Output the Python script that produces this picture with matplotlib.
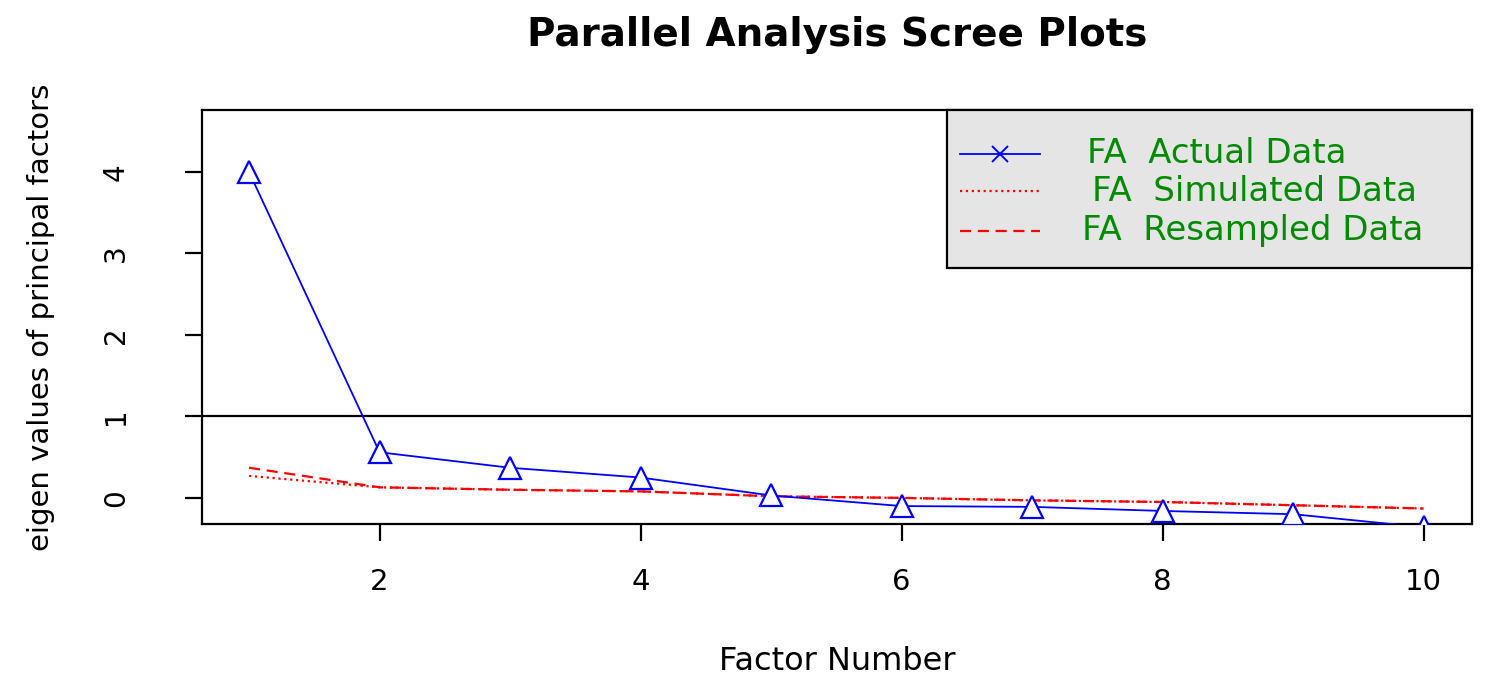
import matplotlib
matplotlib.use("Agg")
from matplotlib import pyplot as plt
from matplotlib.patches import Rectangle

plt.rcParams['font.family'] = ['DejaVu Sans']

# Данные
factors = [1, 2, 3, 4, 5, 6, 7, 8, 9, 10]
actual = [4.00, 0.56, 0.37, 0.25, 0.03, -0.10, -0.11, -0.16, -0.20, -0.36]
simulated = [0.27, 0.13, 0.10, 0.08, 0.02, 0.00, -0.03, -0.05, -0.09, -0.13]
resampled = [0.37, 0.13, 0.10, 0.08, 0.02, 0.00, -0.03, -0.05, -0.09, -0.13]
legend_labels = ["FA  Actual Data", "FA  Simulated Data", "FA  Resampled Data"]
x_ticks = [2, 4, 6, 8, 10]
y_ticks = [0, 1, 2, 3, 4]

fig = plt.figure(figsize=(14.88, 6.89), dpi=100)
ax = fig.add_axes([0.1358, 0.2395, 0.8534, 0.6008])

ax.plot(factors, actual, '-', color='blue', lw=1.3, marker='^', markersize=16,
        markerfacecolor='white', markeredgecolor='blue', markeredgewidth=1.6,
        clip_on=True, zorder=3)
ax.plot(factors, simulated, ':', color='red', lw=1.6)
ax.plot(factors, resampled, '--', color='red', lw=1.6, dashes=(5, 3))
ax.axhline(1, color='black', lw=1.6)

ax.set_xlim(0.64, 10.37)
ax.set_ylim(-0.32, 4.76)
ax.set_xticks(x_ticks)
ax.set_yticks(y_ticks)
ax.set_xticklabels([str(t) for t in x_ticks], fontsize=21)
ax.set_yticklabels([str(t) for t in y_ticks], fontsize=20, rotation=90, va='center')
ax.tick_params(axis='x', length=12, width=1.6, pad=20)
ax.tick_params(axis='y', length=12, width=1.6, pad=40)
for s in ax.spines.values():
    s.set_linewidth(1.6)

ax.set_xlabel("Factor Number", fontsize=23, labelpad=36)
ax.set_ylabel("eigen values of principal factors", fontsize=21, labelpad=34)
# заголовок по центру области графика, как в R
fig.text(0.5625, 0.949, "Parallel Analysis Scree Plots", fontsize=28, fontweight='bold',
         ha='center', va='center')

# Легенда, нарисованная вручную (как в R)
ax.add_patch(Rectangle((0.587, 0.618), 0.413, 0.382, transform=ax.transAxes,
                       facecolor='#e5e5e5', edgecolor='black', lw=1.6, zorder=5, clip_on=False))
rows = [0.894, 0.804, 0.708]
text_x = [0.697, 0.701, 0.693]
ax.plot([0.597, 0.660], [rows[0], rows[0]], '-', color='blue', lw=1.3, transform=ax.transAxes, zorder=6)
ax.plot([0.6285], [rows[0]], 'x', color='blue', markersize=12, mew=1.4, transform=ax.transAxes, zorder=6)
ax.plot([0.597, 0.660], [rows[1], rows[1]], ':', color='red', lw=1.6, transform=ax.transAxes, zorder=6)
ax.plot([0.597, 0.660], [rows[2], rows[2]], '--', color='red', lw=1.6, dashes=(5, 3),
        transform=ax.transAxes, zorder=6)
for lab, yy, xx in zip(legend_labels, rows, text_x):
    ax.text(xx, yy, lab, transform=ax.transAxes, fontsize=24.5, color='#008b00',
            va='center', ha='left', zorder=7)

plt.savefig("out.png", dpi=100)
